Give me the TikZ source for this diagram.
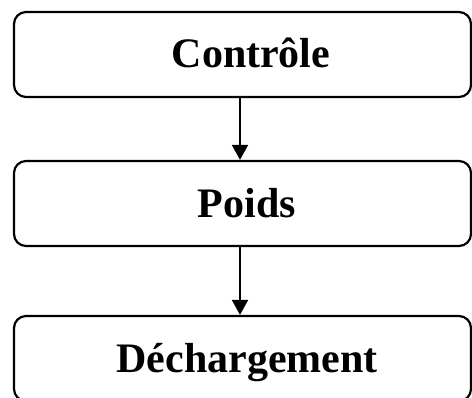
\documentclass[tikz,border=0pt]{standalone}
\usepackage{fontspec}
\setmainfont{Liberation Serif}
\usetikzlibrary{arrows.meta}
\begin{document}
\begin{tikzpicture}[x=1pt,y=-1pt,
  stagebox/.style={draw=black, line width=2.2pt, rounded corners=12pt,
    rectangle, minimum width=457pt, minimum height=85pt, inner sep=0pt},
  stagetext/.style={anchor=base, inner sep=0pt,
    font=\fontsize{42}{48}\selectfont\bfseries},
  flow/.style={line width=2pt, -{Triangle[length=15pt,width=16pt]}}]
  \clip (0,0) rectangle (472,397);
  \useasboundingbox (0,0) rectangle (472,397);

  % three stacked stages
  \node[stagebox] (b1) at (242.5,54.5) {};
  \node[stagebox] (b2) at (242.5,203.5) {};
  \node[stagebox] (b3) at (242.5,358.5) {};

  \node[stagetext] (t1) at (251,67) {Contrôle};
  \node[stagetext] (t2) at (247,217) {Poids};
  \node[stagetext] (t3) at (247,372) {Déchargement};

  % downward flow between stages
  \draw[flow] ([xshift=-2.5pt]b1.south) -- ([xshift=-2.5pt]b2.north);
  \draw[flow] ([xshift=-2.5pt]b2.south) -- ([xshift=-2.5pt]b3.north);
\end{tikzpicture}
\end{document}
